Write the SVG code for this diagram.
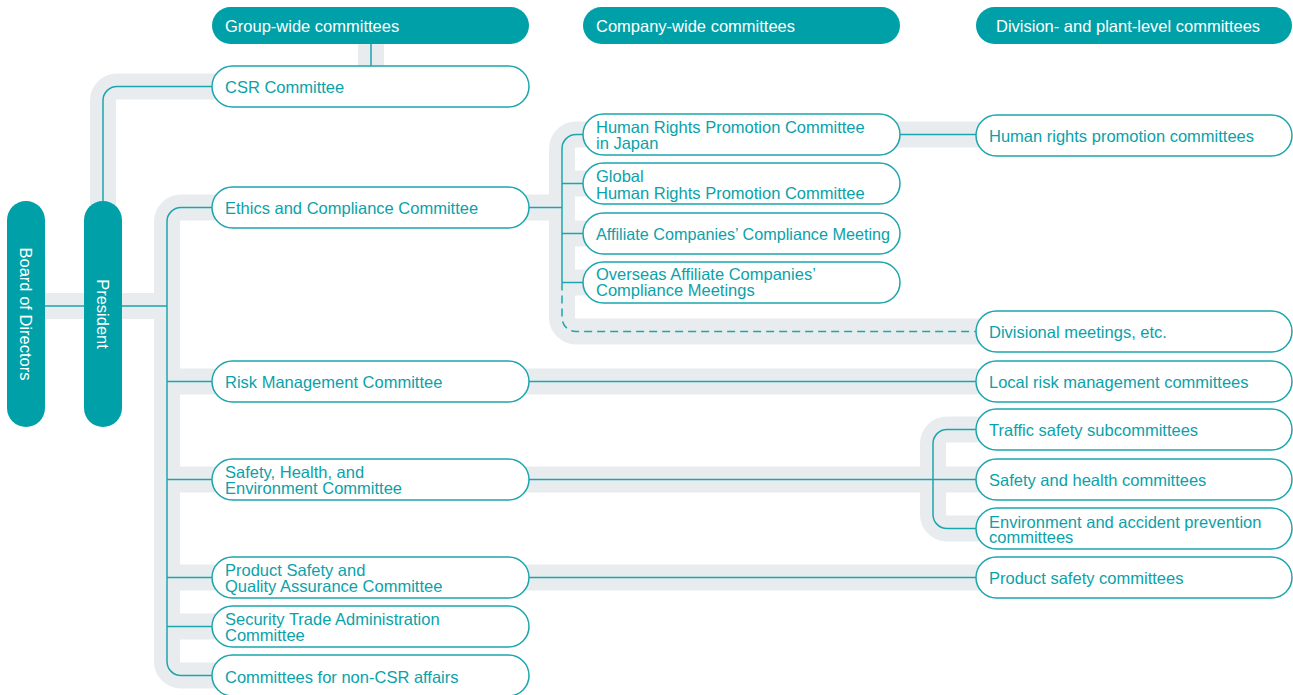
<svg xmlns="http://www.w3.org/2000/svg" width="1293" height="695" viewBox="0 0 1293 695">
<style>
.hdr{fill:#00a0a8}
.ht{fill:#ffffff;font-family:"Liberation Sans",Arial,sans-serif;font-size:16.5px}
.bx{fill:#ffffff;stroke:#1ba6ad;stroke-width:1.5}
.bt{fill:#0aa2aa;font-family:"Liberation Sans",Arial,sans-serif;font-size:16.5px}
.g{fill:none;stroke:#e8ecef;stroke-width:26}
.t{fill:none;stroke:#1ba6ad;stroke-width:1.5}
.d{stroke-dasharray:8 5}
</style>
<rect width="1293" height="695" fill="#ffffff"/>
<g id="connectors">
  <g id="bands">
    <path class="g" d="M371,40 V70"/>
    <path class="g" d="M103,205 V100.5 A14,14 0 0 1 117,86.5 H222"/>
    <path class="g" d="M40,306 H90"/>
    <path class="g" d="M116,306 H167"/>
    <path class="g" d="M222,207.5 H181 A14,14 0 0 0 167,221.5 V661.5 A14,14 0 0 0 181,675.5 H222"/>
    <path class="g" d="M167,381.5 H222 M167,479.5 H222 M167,577.5 H222 M167,626.5 H222"/>
    <path class="g" d="M520,207.5 H562"/>
    <path class="g" d="M593,134.5 H576 A14,14 0 0 0 562,148.5 V317.5 A14,14 0 0 0 576,331.5 H986"/>
    <path class="g" d="M562,183.5 H593 M562,233.5 H593 M562,282.5 H593"/>
    <path class="g" d="M890,134.5 H986"/>
    <path class="g" d="M520,381.5 H986"/>
    <path class="g" d="M520,479.5 H986"/>
    <path class="g" d="M986,429.5 H947 A14,14 0 0 0 933,443.5 V514.5 A14,14 0 0 0 947,528.5 H986"/>
    <path class="g" d="M520,577.5 H986"/>
  </g>
  <g id="lines">
    <path class="t" d="M371,44 V66"/>
    <path class="t" d="M103,201 V100.5 A14,14 0 0 1 117,86.5 H212"/>
    <path class="t" d="M45,306 H84"/>
    <path class="t" d="M122,306 H167"/>
    <path class="t" d="M212,207.5 H181 A14,14 0 0 0 167,221.5 V661.5 A14,14 0 0 0 181,675.5 H212"/>
    <path class="t" d="M167,381.5 H212 M167,479.5 H212 M167,577.5 H212 M167,626.5 H212"/>
    <path class="t" d="M529,207.5 H562"/>
    <path class="t" d="M583,134.5 H576 A14,14 0 0 0 562,148.5 V282.5"/>
    <path class="t" d="M562,183.5 H583 M562,233.5 H583 M562,282.5 H583"/>
    <path class="t d" d="M562,282.5 V317.5 A14,14 0 0 0 576,331.5 H976"/>
    <path class="t" d="M900,134.5 H976"/>
    <path class="t" d="M529,381.5 H976"/>
    <path class="t" d="M529,479.5 H976"/>
    <path class="t" d="M976,429.5 H947 A14,14 0 0 0 933,443.5 V514.5 A14,14 0 0 0 947,528.5 H976"/>
    <path class="t" d="M529,577.5 H976"/>
  </g>
</g>
<g id="hdr-group"><rect class="hdr" x="212" y="7" width="317" height="37" rx="18.5"/><text class="ht" x="225" y="31.5">Group-wide committees</text></g>
<g id="hdr-company"><rect class="hdr" x="583" y="7" width="317" height="37" rx="18.5"/><text class="ht" x="596" y="31.5">Company-wide committees</text></g>
<g id="hdr-division"><rect class="hdr" x="976" y="7" width="316" height="37" rx="18.5"/><text class="ht" x="996" y="31.5">Division- and plant-level committees</text></g>
<g id="board"><rect class="hdr" x="7" y="201" width="38" height="226" rx="19"/><text class="ht" text-anchor="middle" transform="translate(20,314) rotate(90)">Board of Directors</text></g>
<g id="president"><rect class="hdr" x="84" y="201" width="38" height="226" rx="19"/><text class="ht" text-anchor="middle" transform="translate(97,314) rotate(90)">President</text></g>
<g id="csr"><rect class="bx" x="212" y="66" width="317" height="41" rx="20.5"/><text class="bt" x="225" y="92.5">CSR Committee</text></g>
<g id="ethics"><rect class="bx" x="212" y="187" width="317" height="41" rx="20.5"/><text class="bt" x="225" y="213.5">Ethics and Compliance Committee</text></g>
<g id="risk"><rect class="bx" x="212" y="361" width="317" height="41" rx="20.5"/><text class="bt" x="225" y="387.5">Risk Management Committee</text></g>
<g id="she"><rect class="bx" x="212" y="459" width="317" height="41" rx="20.5"/><text class="bt" x="225" y="478">Safety, Health, and</text><text class="bt" x="225" y="494">Environment Committee</text></g>
<g id="psqa"><rect class="bx" x="212" y="557" width="317" height="41" rx="20.5"/><text class="bt" x="225" y="576">Product Safety and</text><text class="bt" x="225" y="592">Quality Assurance Committee</text></g>
<g id="security"><rect class="bx" x="212" y="606" width="317" height="41" rx="20.5"/><text class="bt" x="225" y="625">Security Trade Administration</text><text class="bt" x="225" y="641">Committee</text></g>
<g id="noncsr"><rect class="bx" x="212" y="655" width="317" height="41" rx="20.5"/><text class="bt" x="225" y="683">Committees for non-CSR affairs</text></g>
<g id="hr-japan"><rect class="bx" x="583" y="114" width="317" height="41" rx="20.5"/><text class="bt" x="596" y="132.5">Human Rights Promotion Committee</text><text class="bt" x="596" y="149">in Japan</text></g>
<g id="hr-global"><rect class="bx" x="583" y="163" width="317" height="41" rx="20.5"/><text class="bt" x="596" y="182">Global</text><text class="bt" x="596" y="198.5">Human Rights Promotion Committee</text></g>
<g id="affiliate"><rect class="bx" x="583" y="213" width="317" height="41" rx="20.5"/><text class="bt" x="596" y="239.5" textLength="294" lengthAdjust="spacingAndGlyphs">Affiliate Companies’ Compliance Meeting</text></g>
<g id="overseas"><rect class="bx" x="583" y="262" width="317" height="41" rx="20.5"/><text class="bt" x="596" y="280">Overseas Affiliate Companies’</text><text class="bt" x="596" y="296">Compliance Meetings</text></g>
<g id="hr-promo"><rect class="bx" x="976" y="115" width="316" height="41" rx="20.5"/><text class="bt" x="989" y="141.5">Human rights promotion committees</text></g>
<g id="divisional"><rect class="bx" x="976" y="311" width="316" height="41" rx="20.5"/><text class="bt" x="989" y="337.5">Divisional meetings, etc.</text></g>
<g id="local-risk"><rect class="bx" x="976" y="361" width="316" height="41" rx="20.5"/><text class="bt" x="989" y="387.5">Local risk management committees</text></g>
<g id="traffic"><rect class="bx" x="976" y="409" width="316" height="41" rx="20.5"/><text class="bt" x="989" y="435.5">Traffic safety subcommittees</text></g>
<g id="safety-health"><rect class="bx" x="976" y="459" width="316" height="41" rx="20.5"/><text class="bt" x="989" y="485.5">Safety and health committees</text></g>
<g id="env"><rect class="bx" x="976" y="508" width="316" height="41" rx="20.5"/><text class="bt" x="989" y="527.5">Environment and accident prevention</text><text class="bt" x="989" y="543">committees</text></g>
<g id="product-safety"><rect class="bx" x="976" y="557" width="316" height="41" rx="20.5"/><text class="bt" x="989" y="583.5">Product safety committees</text></g>
</svg>
